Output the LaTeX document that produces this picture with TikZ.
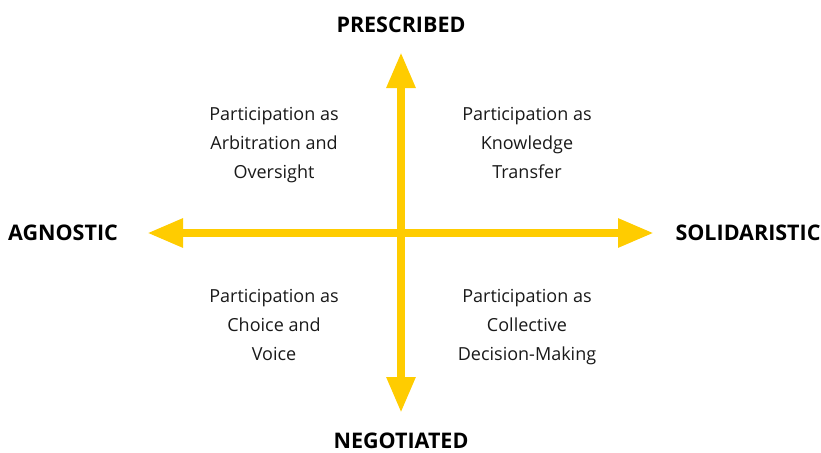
\documentclass[tikz,border=0pt]{standalone}
\usepackage{fontspec}
\setmainfont{Open Sans}
\usetikzlibrary{arrows.meta}
\definecolor{axisyellow}{RGB}{255,204,0}

\begin{document}
\begin{tikzpicture}[x=1pt,y=-1pt,
    axis/.style={axisyellow,line width=8.5pt,
        {Triangle[width=27pt,length=36pt]}-{Triangle[width=27pt,length=36pt]}},
    pole/.style={font=\bfseries\fontsize{21.5}{24}\selectfont, inner sep=0pt},
    quad/.style={align=center, inner sep=0pt, anchor=north, text=black!90,
        font=\fontsize{18}{29.2}\selectfont}]
    \useasboundingbox (0,0) rectangle (821,452);

    % axis ends
    \coordinate (top)    at (401,52);
    \coordinate (bottom) at (401,413);
    \coordinate (left)   at (147,233);
    \coordinate (right)  at (654,233);

    \draw[axis] (left) -- (right);
    \draw[axis] (bottom) -- (top);

    \node[pole] (prescribed)   at (401,25)  {PRESCRIBED};
    \node[pole] (negotiated)   at (401,441) {NEGOTIATED};
    \node[pole] (agnostic)     at (63,233)  {AGNOSTIC};
    \node[pole] (solidaristic) at (748,233) {SOLIDARISTIC};

    \node[quad] (arbitration) at (274,107) {Participation as\\Arbitration and\\Oversight};
    \node[quad] (knowledge)   at (527,107) {Participation as\\Knowledge\\Transfer};
    \node[quad] (choice)      at (274,289) {Participation as\\Choice and\\Voice};
    \node[quad] (collective)  at (527,289) {Participation as\\Collective\\Decision-Making};

\end{tikzpicture}
\end{document}
